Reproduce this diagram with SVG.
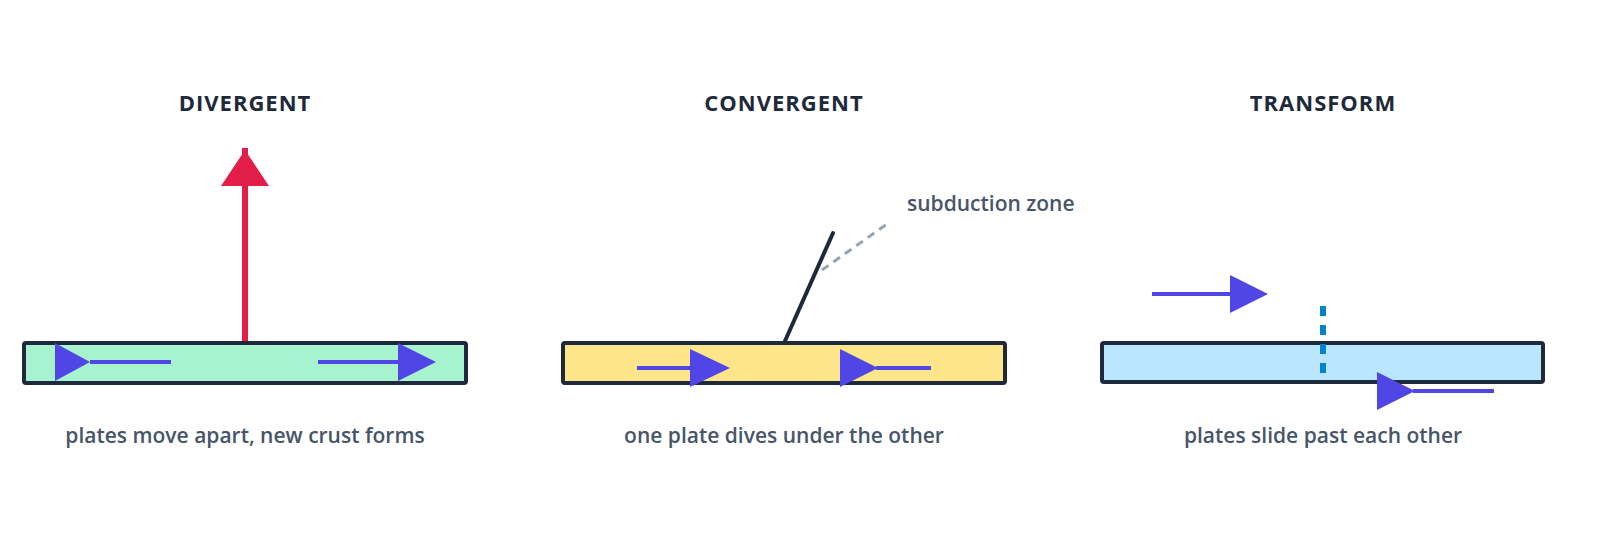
<svg xmlns="http://www.w3.org/2000/svg" width="1600" height="550" viewBox="0 0 1600 550">
<style>
.t{font-family:"Open Sans",sans-serif;font-weight:700;font-size:22px;letter-spacing:1px;fill:#1e293b;text-anchor:middle}
.c{font-family:"Open Sans",sans-serif;font-weight:600;font-size:21px;fill:#475569;text-anchor:middle}
.plate{stroke:#1e293b;stroke-width:4}
.mv{stroke:#4f46e5;stroke-width:4}
.hd{fill:#4f46e5}
</style>
<rect width="1600" height="550" fill="#fff"/>
<g id="divergent">
<text class="t" x="245" y="111">DIVERGENT</text>
<rect class="plate" x="24" y="343" width="442" height="40" fill="#a7f3d0" rx="2"/>
<text class="c" x="245" y="443">plates move apart, new crust forms</text>
</g>
<g id="convergent">
<text class="t" x="784" y="111">CONVERGENT</text>
<rect class="plate" x="563" y="343" width="442" height="40" fill="#fde68a" rx="2"/>
<line x1="785" y1="341" x2="833" y2="233" stroke="#1e293b" stroke-width="4" stroke-linecap="round"/>
<text class="c" x="784" y="443">one plate dives under the other</text>
<text class="c" x="907" y="211" style="text-anchor:start">subduction zone</text>
</g>
<g id="transform">
<text class="t" x="1323" y="111">TRANSFORM</text>
<rect class="plate" x="1102" y="343" width="441" height="39" fill="#bae6fd" rx="2"/>
<text class="c" x="1323" y="443">plates slide past each other</text>
</g>
<g id="connectors">
<line x1="245" y1="341" x2="245" y2="148" stroke="#e11d48" stroke-width="6"/>
<polygon points="245,150 269,186 221,186" fill="#e11d48"/>
<line class="mv" x1="90" y1="362" x2="171" y2="362"/>
<polygon class="hd" points="55,343 90,362 55,381"/>
<line class="mv" x1="318" y1="362" x2="400" y2="362"/>
<polygon class="hd" points="398,343 436,362 398,381"/>
<line class="mv" x1="637" y1="368" x2="692" y2="368"/>
<polygon class="hd" points="690,349 730,368 690,387"/>
<line class="mv" x1="876" y1="368" x2="931" y2="368"/>
<polygon class="hd" points="840,349 878,368 840,387"/>
<line x1="822" y1="270" x2="887" y2="224" stroke="#94a3b8" stroke-width="3" stroke-dasharray="8,6"/>
<line class="mv" x1="1152" y1="294" x2="1232" y2="294"/>
<polygon class="hd" points="1230,275 1268,294 1230,313"/>
<line x1="1323" y1="306" x2="1323" y2="378" stroke="#0284c7" stroke-width="6" stroke-dasharray="10,9"/>
<polygon class="hd" points="1377,372 1415,391 1377,410"/>
<line class="mv" x1="1413" y1="391" x2="1494" y2="391"/>
</g>
</svg>
